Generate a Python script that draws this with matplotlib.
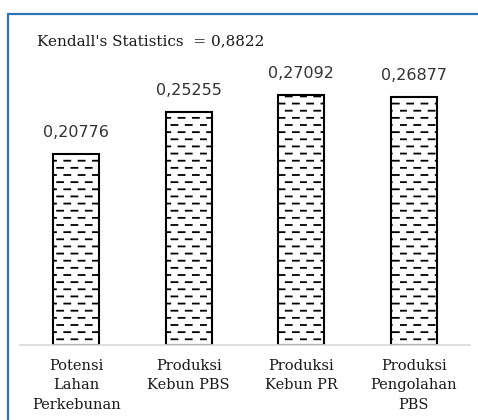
import warnings
warnings.filterwarnings("ignore")
import matplotlib
matplotlib.use("Agg")
import matplotlib.pyplot as plt
from matplotlib.patches import Rectangle
from matplotlib.path import Path
import matplotlib.hatch as mhatch

categories = ["Potensi\nLahan\nPerkebunan", "Produksi\nKebun PBS", "Produksi\nKebun PR", "Produksi\nPengolahan\nPBS"]
values = [0.20776, 0.25255, 0.27092, 0.26877]
value_labels = ["0,20776", "0,25255", "0,27092", "0,26877"]
title_text = "Kendall's Statistics  = 0,8822"


class DashHatch(mhatch.HatchPatternBase):
    def __init__(self, hatch, density):
        self.rows = 14
        self.cols = 7
        self.num_vertices = self.rows * self.cols * 2 if 'd' in hatch else 0

    def set_vertices_and_codes(self, vertices, codes):
        k = 0
        for r in range(self.rows):
            y = (r + 0.5) / self.rows
            off = 0.5 / self.cols if r % 2 else 0.0
            for c in range(self.cols):
                x0 = c / self.cols + off
                x1 = x0 + 0.42 / self.cols
                vertices[k] = (x0, y)
                vertices[k + 1] = (x1, y)
                codes[k] = Path.MOVETO
                codes[k + 1] = Path.LINETO
                k += 2


mhatch._hatch_types.append(DashHatch)
plt.rcParams['hatch.linewidth'] = 1.3
plt.rcParams['hatch.color'] = 'black'

W, H = 478, 420
fig = plt.figure(figsize=(W / 100, H / 100), dpi=100)
fig.patch.set_facecolor('white')

# frame
frame = Rectangle((8 / W, -0.1), 1.2, 1 - 14 / H + 0.1, transform=fig.transFigure,
                  fill=False, edgecolor='#2e75b6', linewidth=1.6, clip_on=False)
fig.patches.append(frame)

ymax = 0.30
px_per_unit = 921
base_px = 345
top_px = base_px - ymax * px_per_unit
ax = fig.add_axes([20 / W, (H - base_px) / H, 450 / W, (base_px - top_px) / H])
ax.set_xlim(-0.5, len(categories) - 0.5)
ax.set_ylim(0, ymax)

x = range(len(categories))
ax.bar(x, values, width=0.41, color='white', edgecolor='black', linewidth=1.5, hatch='d')

for xi, v, lab in zip(x, values, value_labels):
    ax.annotate(lab, (xi, v), xytext=(0, 15.5), textcoords='offset points',
                ha='center', va='center', fontsize=11.5, family='DejaVu Sans', color='#333333')

for s in ['top', 'left', 'right']:
    ax.spines[s].set_visible(False)
ax.spines['bottom'].set_color('#d9d9d9')
ax.spines['bottom'].set_linewidth(1.2)
ax.set_yticks([])
ax.set_xticks(list(x))
ax.set_xticklabels(categories, family='DejaVu Serif', fontsize=10.5, linespacing=1.5, color='#1a1a1a')
ax.tick_params(axis='x', length=0, pad=10)

fig.text(37 / W, 1 - 41 / H, title_text, family='DejaVu Serif', fontsize=11,
         ha='left', va='center', color='#1a1a1a')

fig.savefig('out.png', dpi=100)
